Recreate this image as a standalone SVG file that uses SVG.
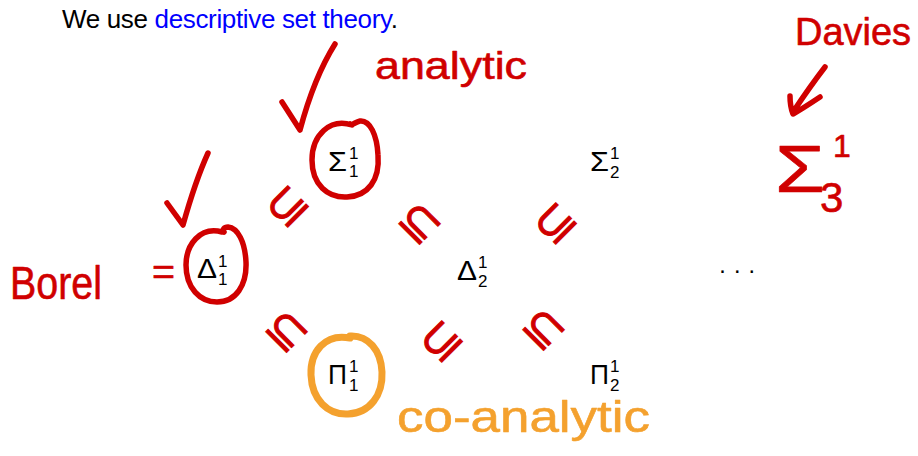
<svg xmlns="http://www.w3.org/2000/svg" width="918" height="456" viewBox="0 0 918 456">
<style>
.t{font-family:"Liberation Sans",Arial,sans-serif;fill:#000}
.g{font-size:28px}
.s{font-size:17px}
.ink{fill:none;stroke:#d00000;stroke-width:5.5;stroke-linecap:round;stroke-linejoin:round}
.ink2{fill:none;stroke:#f4a12e;stroke-width:7;stroke-linecap:round;stroke-linejoin:round}
.hw{font-family:"Liberation Sans",Arial,sans-serif;fill:#d00000;stroke:#d00000;stroke-width:0.6;stroke-linejoin:round}
.hwo{font-family:"Liberation Sans",Arial,sans-serif;fill:#f4a12e;stroke:#f4a12e;stroke-width:0.6;stroke-linejoin:round}
.sub{font-family:"DejaVu Sans",sans-serif;font-size:48px;fill:#d00000;stroke:#d00000;stroke-width:1;text-anchor:middle}
</style>
<rect width="918" height="456" fill="#fff"/>
<text class="t" x="62" y="28" font-size="26" textLength="336" lengthAdjust="spacing">We use <tspan fill="#0000ff">descriptive set theory</tspan>.</text>

<g id="sigma11"><text class="t g" x="328" y="171" textLength="19" lengthAdjust="spacingAndGlyphs">Σ</text><text class="t s" x="349" y="159">1</text><text class="t s" x="349" y="177">1</text></g>
<g id="sigma12"><text class="t g" x="590" y="171" textLength="19" lengthAdjust="spacingAndGlyphs">Σ</text><text class="t s" x="610" y="159">1</text><text class="t s" x="610" y="178">2</text></g>
<g id="delta11"><text class="t g" x="197" y="278" textLength="20" lengthAdjust="spacingAndGlyphs">Δ</text><text class="t s" x="218" y="267">1</text><text class="t s" x="218" y="285">1</text></g>
<g id="delta12"><text class="t g" x="457" y="280" textLength="20" lengthAdjust="spacingAndGlyphs">Δ</text><text class="t s" x="478" y="268">1</text><text class="t s" x="478" y="287">2</text></g>
<g id="pi11"><text class="t g" x="328" y="384" textLength="19" lengthAdjust="spacingAndGlyphs">Π</text><text class="t s" x="349" y="372">1</text><text class="t s" x="349" y="391">1</text></g>
<g id="pi12"><text class="t g" x="590" y="384" textLength="19" lengthAdjust="spacingAndGlyphs">Π</text><text class="t s" x="610" y="372">1</text><text class="t s" x="610" y="391">2</text></g>
<g id="dots"><text class="t" x="718.5" y="278" font-size="24">· · ·</text></g>

<g id="connectors">
<text class="sub" transform="translate(286,205) rotate(-45)" y="17">⊆</text>
<text class="sub" transform="translate(421,222) rotate(45)" y="17">⊆</text>
<text class="sub" transform="translate(288,330) rotate(45)" y="17">⊆</text>
<text class="sub" transform="translate(440,340) rotate(-45)" y="17">⊆</text>
<text class="sub" transform="translate(554,222) rotate(-45)" y="17">⊆</text>
<text class="sub" transform="translate(545,328) rotate(45)" y="17">⊆</text>
</g>

<g id="annotations">
<path class="ink" d="M352 125 C330 118,312 135,312 160 C312 185,328 198,347 197 C368 196,380 180,378 155 C377 135,370 120,360 121 C355 122,352 126,350 124"/>
<path class="ink" d="M222 232 C200 226,186 245,186 265 C186 288,200 302,217 302 C236 302,247 285,246 262 C245 242,238 228,228 227 C224 227,222 230,224 232"/>
<path class="ink2" d="M350 338 C325 333,310 352,311 375 C312 400,328 415,348 414 C370 413,383 395,382 372 C381 350,368 335,350 336"/>
<path class="ink" d="M282 102 L300 130 C308 100,320 68,335 44"/>
<path class="ink" d="M167 203 L183 225 C190 200,198 175,208 153"/>
<path class="ink" stroke-width="4" d="M825 67 C815 80,803 97,793 112 M790 96 C790 103,791 109,793 114 C802 109,811 103,820 97"/>
<text class="hw" x="375" y="79" font-size="38" textLength="152" lengthAdjust="spacingAndGlyphs">analytic</text>
<text class="hw" x="10" y="299" font-size="46" textLength="92" lengthAdjust="spacingAndGlyphs">Borel</text>
<text class="hw" x="152" y="284" font-size="36" textLength="23" lengthAdjust="spacingAndGlyphs">=</text>
<text class="hwo" x="397" y="432" font-size="44" textLength="253" lengthAdjust="spacingAndGlyphs">co-analytic</text>
<text class="hw" x="795" y="45" font-size="38" textLength="116" lengthAdjust="spacingAndGlyphs">Davies</text>
<text class="hw" x="775" y="192" font-size="66" textLength="50" lengthAdjust="spacingAndGlyphs">Σ</text>
<text class="hw" x="833" y="157" font-size="32">1</text>
<text class="hw" x="820" y="212" font-size="42">3</text>
</g>
</svg>
